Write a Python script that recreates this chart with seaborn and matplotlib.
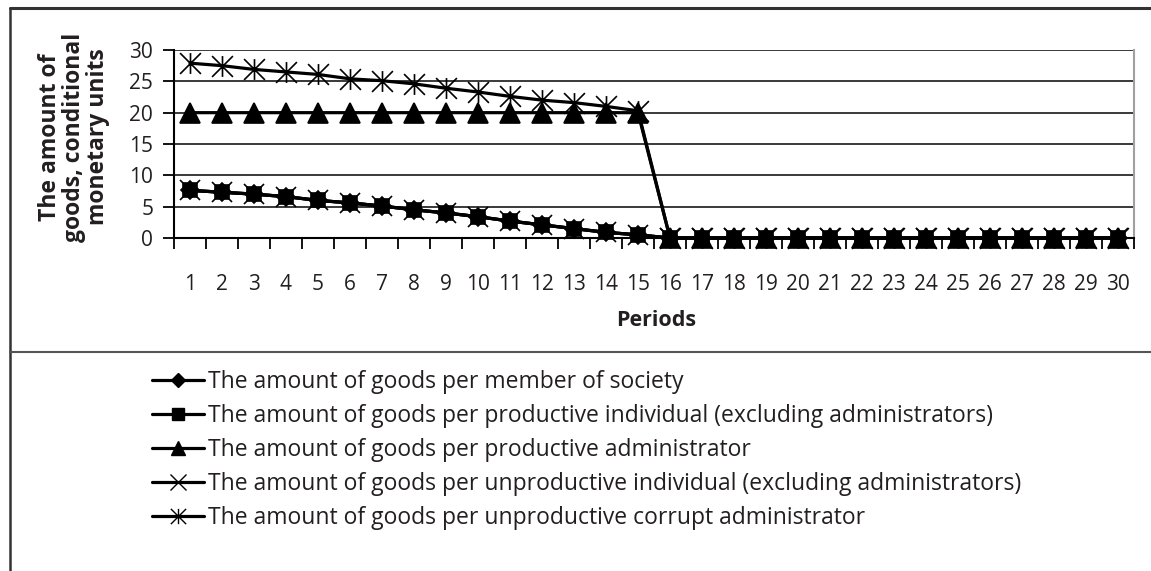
import numpy as np
import pandas as pd
import matplotlib
matplotlib.use("Agg")
import matplotlib.pyplot as plt
from matplotlib.lines import Line2D
from matplotlib.path import Path
import seaborn as sns

# ---------------- data ----------------
periods = list(range(1, 31))
tick_labels = [str(p) for p in periods]

goods_member_society = [7.6, 7.3, 7.0, 6.6, 6.0, 5.6, 5.1, 4.5, 4.0, 3.4, 2.7, 2.1, 1.5, 0.9, 0.5,
                        0, 0, 0, 0, 0, 0, 0, 0, 0, 0, 0, 0, 0, 0, 0]
goods_productive_individual = [7.6, 7.3, 7.0, 6.6, 6.0, 5.6, 5.1, 4.5, 4.0, 3.4, 2.7, 2.1, 1.5, 0.9, 0.5,
                               0, 0, 0, 0, 0, 0, 0, 0, 0, 0, 0, 0, 0, 0, 0]
goods_productive_admin = [20, 20, 20, 20, 20, 20, 20, 20, 20, 20, 20, 20, 20, 20, 20,
                          0, 0, 0, 0, 0, 0, 0, 0, 0, 0, 0, 0, 0, 0, 0]
goods_unproductive_individual = [7.6, 7.3, 7.0, 6.6, 6.0, 5.6, 5.1, 4.5, 4.0, 3.4, 2.7, 2.1, 1.5, 0.9, 0.5,
                                 0, 0, 0, 0, 0, 0, 0, 0, 0, 0, 0, 0, 0, 0, 0]
goods_corrupt_admin = [27.9, 27.5, 26.9, 26.5, 26.1, 25.4, 25.1, 24.6, 23.9, 23.3, 22.6, 22.0, 21.6, 21.0, 20.3,
                       0, 0, 0, 0, 0, 0, 0, 0, 0, 0, 0, 0, 0, 0, 0]

series_names = [
    "The amount of goods per member of society",
    "The amount of goods per productive individual (excluding administrators)",
    "The amount of goods per productive administrator",
    "The amount of goods per unproductive individual (excluding administrators)",
    "The amount of goods per unproductive corrupt administrator",
]
series_values = [goods_member_society, goods_productive_individual, goods_productive_admin,
                 goods_unproductive_individual, goods_corrupt_admin]

# ---------------- style ----------------
sns.set_theme(style="white")
plt.rcParams['font.family'] = ['Open Sans', 'DejaVu Sans']

# asterisk marker: X plus vertical bar (Excel style)
ast_path = Path([(0, -1), (0, 1), (-1, -1), (1, 1), (-1, 1), (1, -1)],
                [Path.MOVETO, Path.LINETO, Path.MOVETO, Path.LINETO, Path.MOVETO, Path.LINETO])

markers = ['D', 's', '^', 'x', ast_path]
msizes = [9, 10, 15, 14, 15]
leg_msizes = [7, 8, 10, 11, 11]

W, H = 1151, 571
fig = plt.figure(figsize=(W / 100, H / 100), dpi=100)
ax = fig.add_axes([174 / W, 1 - 238 / H, (1134 - 174) / W, (238 - 50) / H])

for name, vals, mk, ms in zip(series_names, series_values, markers, msizes):
    df = pd.DataFrame({"period": periods, "value": vals})
    sns.lineplot(data=df, x="period", y="value", ax=ax, color="black", linewidth=2.3,
                 marker=mk, markersize=ms, markeredgecolor="black", markerfacecolor="black",
                 markeredgewidth=1.2, legend=False, clip_on=False, zorder=3)

ax.set_xlim(0.5, 30.5)
ax.set_ylim(0, 30)
ax.set_yticks(range(0, 31, 5))
ax.yaxis.grid(True, color="#2a2a2a", linewidth=1.3)
ax.xaxis.grid(False)

# category boundaries as tick marks, labels at category centres
ax.set_xticks(np.arange(0.5, 31, 1))
ax.set_xticklabels([])
ax.set_xticks(periods, minor=True)
ax.set_xticklabels(tick_labels, minor=True)
ax.tick_params(axis='x', which='major', length=8, width=1.3, color='black', direction='out', bottom=True)
ax.tick_params(axis='x', which='minor', length=0, pad=26, labelsize=15, labelcolor='#231f20')
ax.tick_params(axis='y', which='major', length=8, width=1.3, color='black', direction='out', left=True,
               pad=7, labelsize=15, labelcolor='#231f20')

for s in ['left', 'bottom']:
    ax.spines[s].set_color('black')
    ax.spines[s].set_linewidth(1.5)
ax.spines['top'].set_visible(False)
ax.spines['right'].set_color('#a0a0a0')
ax.spines['right'].set_linewidth(1.5)
ax.set_xlabel("")
ax.set_ylabel("")

# axis titles
fig.text(656 / W, 1 - 320 / H, "Periods", ha='center', va='center', fontsize=15.5,
         fontweight='bold', color='#231f20')
fig.text(74 / W, 1 - 137 / H, "The amount of\ngoods, conditional\nmonetary units", ha='center',
         va='center', rotation=90, fontsize=16.5, fontweight='bold', color='#231f20',
         multialignment='center', linespacing=1.02)

# frame lines
fig.add_artist(Line2D([10 / W, 1.0], [1 - 8 / H, 1 - 8 / H], color='#333333', linewidth=2.2))
fig.add_artist(Line2D([10 / W, 10 / W], [1 - 8 / H, 0], color='#333333', linewidth=1.8))
fig.add_artist(Line2D([10 / W, 1.0], [1 - 352 / H, 1 - 352 / H], color='#555555', linewidth=1.5))

# legend
handles = [Line2D([0], [0], color='black', linewidth=2.3, marker=mk, markersize=ms,
                  markerfacecolor='black', markeredgecolor='black', markeredgewidth=1.0)
           for mk, ms in zip(markers, leg_msizes)]
fig.legend(handles, series_names, loc='upper left', bbox_to_anchor=(143 / W, 1 - 361 / H),
           frameon=False, fontsize=16.5, handlelength=2.25, handletextpad=0.17,
           labelspacing=0.43, borderaxespad=0, labelcolor='#231f20')

fig.savefig("out.png", dpi=100)
